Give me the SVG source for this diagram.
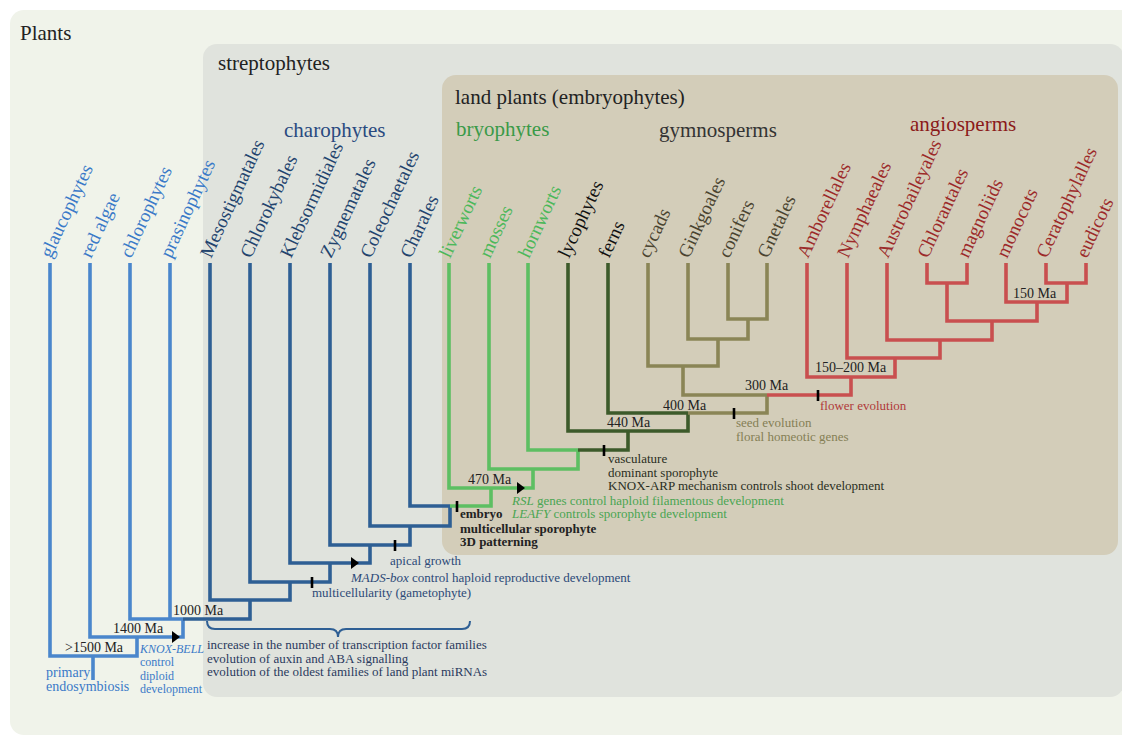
<svg xmlns="http://www.w3.org/2000/svg" width="1122" height="736" viewBox="0 0 1122 736">
<style>
text{font-family:"Liberation Serif","Times New Roman",serif;}
.hd{font-size:21px;fill:#222;}
.lf{font-size:19px;}
.t{font-size:13px;}
.ma{font-size:14px;fill:#222;}
.br{fill:none;stroke-width:3.6;stroke-linejoin:miter;}
.lb{stroke:#4a86cc;} .db{stroke:#2e5f94;} .gr{stroke:#5dbf62;} .dg{stroke:#3c5a2a;} .ol{stroke:#8a8556;} .rd{stroke:#c94f4f;}
.clb{fill:#3a7ac8;} .cdb{fill:#23446e;} .cgr{fill:#4cb85a;} .cbk{fill:#111;} .col{fill:#4a4430;} .crd{fill:#9c2a2a;}
.tick{stroke:#000;stroke-width:2.6;}
</style>
<rect x="0" y="0" width="1122" height="736" fill="#ffffff"/>
<g id="bg-plants"><rect x="10" y="10" width="1140" height="725" rx="14" fill="#f0f3ea"/><text class="hd" x="20" y="40">Plants</text></g>
<g id="bg-streptophytes"><rect x="203" y="44" width="921" height="653" rx="14" fill="#e0e3dd"/><text class="hd" x="218" y="70">streptophytes</text></g>
<g id="bg-landplants"><rect x="442" y="75" width="676" height="480" rx="14" fill="#d3cdb9"/><text class="hd" x="455" y="104">land plants (embryophytes)</text></g>
<g id="group-labels">
<text class="hd" x="284" y="137" fill="#2a4a80" style="fill:#2a4a80">charophytes</text>
<text class="hd" x="456" y="136" style="fill:#3a9a48">bryophytes</text>
<text class="hd" x="659" y="137" style="fill:#333">gymnosperms</text>
<text class="hd" x="910" y="131" style="fill:#8b1a1a">angiosperms</text>
</g>
<g id="connectors">
<path class="br lb" d="M93,656 V680"/>
<path class="br lb" d="M50,263 V656 H93"/>
<path class="br lb" d="M137,637 V656 H93"/>
<path class="br lb" d="M90,263 V637 H137"/>
<path class="br lb" d="M183,619 V637 H137"/>
<path class="br lb" d="M130,263 V619 H183"/>
<path class="br lb" d="M170,263 V619"/>
<path class="br db" d="M250,600 V619 H183"/>
<path class="br db" d="M210,263 V600 H250"/>
<path class="br db" d="M290,582 V600 H250"/>
<path class="br db" d="M250,263 V582 H290"/>
<path class="br db" d="M330,563 V582 H290"/>
<path class="br db" d="M290,263 V563 H330"/>
<path class="br db" d="M370,545 V563 H330"/>
<path class="br db" d="M330,263 V545 H370"/>
<path class="br db" d="M410,526 V545 H370"/>
<path class="br db" d="M370,263 V526 H410"/>
<path class="br db" d="M450,506 V526 H410"/>
<path class="br db" d="M410,263 V506 H450"/>
<path class="br gr" d="M491,488 V506 H450"/>
<path class="br gr" d="M449,263 V488 H491"/>
<path class="br gr" d="M533,469 V488 H491"/>
<path class="br gr" d="M489,263 V469 H533"/>
<path class="br gr" d="M578,450 V469 H533"/>
<path class="br gr" d="M528,263 V450 H578"/>
<path class="br dg" d="M628,431 V450 H578"/>
<path class="br dg" d="M568,263 V431 H628"/>
<path class="br dg" d="M688,413 V431 H628"/>
<path class="br dg" d="M608,263 V413 H688"/>
<path class="br ol" d="M767,395 V413 H688"/>
<path class="br ol" d="M683,366 V395 H767"/>
<path class="br ol" d="M648,263 V366 H683"/>
<path class="br ol" d="M718,339 V366 H683"/>
<path class="br ol" d="M688,263 V339 H718"/>
<path class="br ol" d="M748,319 V339 H718"/>
<path class="br ol" d="M728,263 V319 H748"/>
<path class="br ol" d="M767,263 V319 H748"/>
<path class="br rd" d="M851,377 V395 H767"/>
<path class="br rd" d="M807,263 V377 H851"/>
<path class="br rd" d="M895,358 V377 H851"/>
<path class="br rd" d="M847,263 V358 H895"/>
<path class="br rd" d="M940,340 V358 H895"/>
<path class="br rd" d="M887,263 V340 H940"/>
<path class="br rd" d="M992,321 V340 H940"/>
<path class="br rd" d="M947,283 V321 H992"/>
<path class="br rd" d="M927,263 V283 H947"/>
<path class="br rd" d="M967,263 V283 H947"/>
<path class="br rd" d="M1037,302 V321 H992"/>
<path class="br rd" d="M1006,263 V302 H1037"/>
<path class="br rd" d="M1067,283 V302 H1037"/>
<path class="br rd" d="M1046,263 V283 H1067"/>
<path class="br rd" d="M1086,263 V283 H1067"/>
<path d="M207,621 Q207,629 215,629 L330,629 Q338,629 338,637 Q338,629 346,629 L462,629 Q470,629 470,621" fill="none" stroke="#2e5f94" stroke-width="2"/>
</g>
<g id="events">
<line class="tick" x1="312" y1="577" x2="312" y2="588"/>
<line class="tick" x1="395" y1="540" x2="395" y2="551"/>
<line class="tick" x1="457" y1="501" x2="457" y2="512"/>
<line class="tick" x1="604" y1="445" x2="604" y2="456"/>
<line class="tick" x1="734" y1="408" x2="734" y2="419"/>
<line class="tick" x1="818" y1="390" x2="818" y2="401"/>
<polygon points="172,631 180,637 172,643" fill="#000"/>
<polygon points="351,557 359,563 351,569" fill="#000"/>
<polygon points="517,482 525,488 517,494" fill="#000"/>
</g>
<g id="leaf-labels" class="lf">
<text class="clb" transform="translate(51,259) rotate(-65)">glaucophytes</text>
<text class="clb" transform="translate(91,259) rotate(-65)">red algae</text>
<text class="clb" transform="translate(131,259) rotate(-65)">chlorophytes</text>
<text class="clb" transform="translate(171,259) rotate(-65)">prasinophytes</text>
<text class="cdb" transform="translate(211,259) rotate(-65)">Mesostigmatales</text>
<text class="cdb" transform="translate(251,259) rotate(-65)">Chlorokybales</text>
<text class="cdb" transform="translate(291,259) rotate(-65)">Klebsormidiales</text>
<text class="cdb" transform="translate(331,259) rotate(-65)">Zygnematales</text>
<text class="cdb" transform="translate(371,259) rotate(-65)">Coleochaetales</text>
<text class="cdb" transform="translate(411,259) rotate(-65)">Charales</text>
<text class="cgr" transform="translate(450,259) rotate(-65)">liverworts</text>
<text class="cgr" transform="translate(490,259) rotate(-65)">mosses</text>
<text class="cgr" transform="translate(529,259) rotate(-65)">hornworts</text>
<text class="cbk" transform="translate(569,259) rotate(-65)">lycophytes</text>
<text class="cbk" transform="translate(609,259) rotate(-65)">ferns</text>
<text class="col" transform="translate(649,259) rotate(-65)">cycads</text>
<text class="col" transform="translate(689,259) rotate(-65)">Ginkgoales</text>
<text class="col" transform="translate(729,259) rotate(-65)">conifers</text>
<text class="col" transform="translate(768,259) rotate(-65)">Gnetales</text>
<text class="crd" transform="translate(808,259) rotate(-65)">Amborellales</text>
<text class="crd" transform="translate(848,259) rotate(-65)">Nymphaeales</text>
<text class="crd" transform="translate(888,259) rotate(-65)">Austrobaileyales</text>
<text class="crd" transform="translate(928,259) rotate(-65)">Chlorantales</text>
<text class="crd" transform="translate(968,259) rotate(-65)">magnoliids</text>
<text class="crd" transform="translate(1007,259) rotate(-65)">monocots</text>
<text class="crd" transform="translate(1047,259) rotate(-65)">Ceratophylalles</text>
<text class="crd" transform="translate(1087,259) rotate(-65)">eudicots</text>
</g>
<g id="ages" class="ma">
<text x="65" y="652">&gt;1500 Ma</text>
<text x="113" y="633">1400 Ma</text>
<text x="173" y="615">1000 Ma</text>
<text x="468" y="484">470 Ma</text>
<text x="607" y="427">440 Ma</text>
<text x="663" y="410">400 Ma</text>
<text x="745" y="390">300 Ma</text>
<text x="815" y="372">150–200 Ma</text>
<text x="1013" y="298">150 Ma</text>
</g>
<g id="notes">
<text x="46" y="677" style="font-size:14px;fill:#3a7ac8">primary</text>
<text x="46" y="691" style="font-size:14px;fill:#3a7ac8">endosymbiosis</text>
<g style="font-size:12px;fill:#3a7ac8">
<text x="140" y="653" font-style="italic">KNOX-BELL</text>
<text x="140" y="666">control</text>
<text x="140" y="680">diploid</text>
<text x="140" y="693">development</text>
</g>
<g class="t" style="fill:#2a3a5e">
<text x="207" y="649">increase in the number of transcription factor families</text>
<text x="207" y="663">evolution of auxin and ABA signalling</text>
<text x="207" y="676">evolution of the oldest families of land plant miRNAs</text>
</g>
<g class="t" style="fill:#2d4a78">
<text x="312" y="597">multicellularity (gametophyte)</text>
<text x="351" y="582"><tspan font-style="italic">MADS-box</tspan> control haploid reproductive development</text>
<text x="390" y="565">apical growth</text>
</g>
<g class="t" style="fill:#222;font-weight:bold">
<text x="460" y="518">embryo</text>
<text x="460" y="533">multicellular sporophyte</text>
<text x="460" y="546">3D patterning</text>
</g>
<g class="t" style="fill:#4aa552">
<text x="512" y="505"><tspan font-style="italic">RSL</tspan> genes control haploid filamentous development</text>
<text x="512" y="518"><tspan font-style="italic">LEAFY</tspan> controls sporophyte development</text>
</g>
<g class="t" style="fill:#2a2e22">
<text x="608" y="463">vasculature</text>
<text x="608" y="477">dominant sporophyte</text>
<text x="608" y="490">KNOX-ARP mechanism controls shoot development</text>
</g>
<g class="t" style="fill:#857f55">
<text x="736" y="427">seed evolution</text>
<text x="736" y="441">floral homeotic genes</text>
</g>
<text class="t" x="820" y="410" style="fill:#b03a3a">flower evolution</text>
</g>
</svg>
